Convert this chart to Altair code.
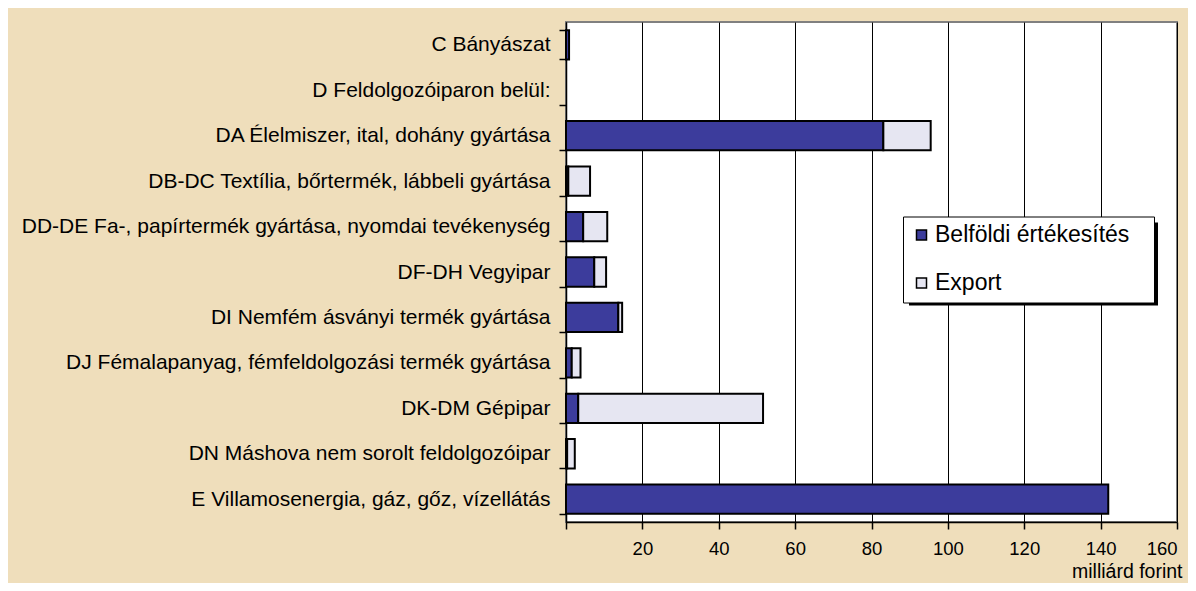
import altair as alt
import pandas as pd

categories = [
    "C Bányászat",
    "D Feldolgozóiparon belül:",
    "DA Élelmiszer, ital, dohány gyártása",
    "DB-DC Textília, bőrtermék, lábbeli gyártása",
    "DD-DE Fa-, papírtermék gyártása, nyomdai tevékenység",
    "DF-DH Vegyipar",
    "DI Nemfém ásványi termék gyártása",
    "DJ Fémalapanyag, fémfeldolgozási termék gyártása",
    "DK-DM Gépipar",
    "DN Máshova nem sorolt feldolgozóipar",
    "E Villamosenergia, gáz, gőz, vízellátás",
]
belfoldi = [0.8, 0.0, 83.1, 0.6, 4.5, 7.4, 13.7, 1.5, 3.2, 0.3, 142.0]
export = [0.0, 0.0, 12.4, 5.7, 6.3, 3.1, 1.0, 2.3, 48.4, 2.0, 0.0]
series = ["Belföldi értékesítés", "Export"]
colors = ["#3c3c9c", "#e6e6f2"]
x_ticks = [0, 20, 40, 60, 80, 100, 120, 140, 160]

rows = []
for c, b, e in zip(categories, belfoldi, export):
    if b > 0:
        rows.append({"cat": c, "series": series[0], "value": b, "ord": 0})
    if e > 0:
        rows.append({"cat": c, "series": series[1], "value": e, "ord": 1})
df = pd.DataFrame(rows)

FONT = "Liberation Sans"

bars = alt.Chart(df).mark_bar(stroke="black", strokeWidth=2).encode(
    y=alt.Y("cat:N", sort=None,
            scale=alt.Scale(domain=categories, paddingInner=0.355, paddingOuter=0.18),
            axis=alt.Axis(title=None, tickBand="extent", tickSize=7, labelPadding=9,
                          labelFontSize=21, labelFont=FONT, labelColor="black",
                          labelLimit=700, domainColor="black", domainWidth=1.5,
                          tickColor="black", tickWidth=1.5, grid=False)),
    x=alt.X("value:Q", stack="zero",
            scale=alt.Scale(domain=[0, 160], nice=False),
            axis=alt.Axis(values=x_ticks, labelExpr="datum.value == 0 ? '' : datum.label",
                          grid=True, gridColor="black", gridWidth=1,
                          tickSize=7, tickColor="black", tickWidth=1.5,
                          domainColor="black", domainWidth=1.5,
                          labelPadding=10, labelFontSize=18.5, labelFont=FONT, labelColor="black",
                          title="milliárd forint", titleFont=FONT, titleFontSize=19.5,
                          titleFontWeight="normal", titleColor="black",
                          titleX=616, titleY=55, titleAlign="right", titleBaseline="alphabetic")),
    fill=alt.Fill("series:N", scale=alt.Scale(domain=series, range=colors),
                  legend=alt.Legend(orient="none", legendX=337, legendY=194.5, title=None,
                                    fillColor="white", strokeColor="black", padding=7,
                                    symbolType="square", symbolSize=100,
                                    symbolStrokeColor="black", symbolStrokeWidth=1.5,
                                    labelFontSize=23, labelFont=FONT, labelColor="black",
                                    labelOffset=2, rowPadding=24, labelLimit=400,
                                    labelExpr="datum.label + '\u2800'")),
    order=alt.Order("ord:Q"),
)

shadow = alt.Chart(pd.DataFrame({"k": [0]})).mark_rect(color="black").encode(
    x=alt.value(343), x2=alt.value(592), y=alt.value(200.5), y2=alt.value(283.5)
)

chart = alt.layer(shadow, bars).properties(
    width=611, height=500,
    autosize=alt.AutoSizeParams(type="none"),
    padding={"left": 558, "top": 14, "right": 11, "bottom": 61},
    background="#efdebb",
).configure_view(stroke="#808080", strokeWidth=2, fill="white")

chart.save("out.html", embed_options={"renderer": "svg", "actions": False})
